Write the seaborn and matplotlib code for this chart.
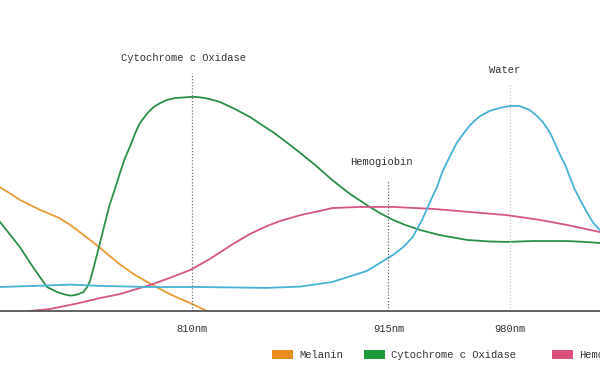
#!/usr/bin/env python3
"""Absorption spectra of tissue chromophores (NIR window)"""

import matplotlib.pyplot as plt
import pandas as pd
import seaborn as sns
from matplotlib.patches import Patch

###########################################################
# Data (wavelength in nm, relative absorption)
###########################################################

melanin_nm = [697, 707, 712.5, 718, 723.5, 729, 734, 739, 745, 750, 755.5,
              761, 766, 772, 779.5, 788, 798, 809, 818]
melanin_abs = [61.4, 56.4, 53.6, 50.5, 48.2, 45.9, 44.1, 42.3, 39.1, 35.9, 32.3,
               28.6, 25.0, 20.9, 16.4, 12.3, 7.7, 3.6, 0]

cco_nm = [699, 707, 718, 725, 732.5, 738, 742, 745, 748, 752, 754, 755.5, 758,
          761, 763.5, 766, 769, 771.5, 774, 777, 779.5, 782, 785, 787.5, 790,
          793, 796.5, 801, 804.5, 809, 812.5, 817, 820.5, 825, 833, 841, 847.5,
          854, 861, 868, 876.5, 885, 894.5, 905, 910.5, 917.5, 924, 932, 942.5,
          957, 969, 978, 992, 1001.5, 1010.5, 1020, 1028, 1036]
cco_abs = [49.5, 40.9, 29.1, 20.0, 10.9, 8.6, 7.5, 7.0, 7.3, 8.6, 10.9, 13.6, 21.5,
           31.5, 40.0, 48.3, 55.9, 62.7, 69.1, 75.0, 80.5, 85.2, 88.6, 91.2, 93.0,
           94.5, 95.9, 96.8, 97.0, 97.3, 97.3, 96.8, 96.1, 95.0, 91.8, 88.2, 84.5,
           80.9, 76.4, 71.8, 65.9, 59.5, 53.2, 47.3, 44.5, 41.4, 39.1, 36.8, 34.5,
           32.3, 31.6, 31.4, 31.8, 31.8, 31.8, 31.4, 30.9, 30.5]

hb_nm = [723, 734, 747.5, 761, 771.5, 787.5, 798, 809, 819.5, 832, 841, 850,
         857, 868, 878.5, 885, 900, 917.5, 939, 958.5, 978, 996, 1010.5, 1028, 1036]
hb_abs = [0, 0.9, 3.2, 5.9, 7.7, 11.8, 15.0, 18.6, 23.6, 30.5, 35.0, 38.6,
          40.9, 43.6, 45.5, 46.8, 47.3, 47.3, 46.4, 45.0, 43.6, 41.4, 39.1, 35.9, 34.5]

water_nm = [699, 707, 726, 745, 761, 787.5, 814, 850, 868, 885, 903.5, 917.5,
            923, 928, 933, 937, 941, 944, 948, 951.5, 955, 958.5, 961.5, 964, 969,
            974.5, 980, 985, 990.5, 994.5, 997.5, 1000.5, 1002.5, 1006.5, 1009.5,
            1012, 1014.5, 1017.5, 1021, 1024.5, 1026.5, 1028, 1036]
water_abs = [10.7, 10.9, 11.4, 12.0, 11.4, 10.9, 10.9, 10.5, 11.1, 13.2, 18.2, 25.5,
             29.1, 33.6, 41.4, 49.1, 56.4, 63.6, 70.5, 76.4, 80.5, 84.3, 86.8, 88.6,
             90.9, 92.3, 93.2, 93.2, 91.4, 88.6, 85.9, 82.3, 79.1, 71.4, 66.4,
             60.9, 55.5, 50.5, 45.0, 40.0, 38.2, 36.8, 32.3]

series = ["Melanin", "Cytochrome c Oxidase", "Hemoglobin", "Water"]
colors = ["#E88E1E", "#1F9A3B", "#D9507A", "#48B8D8"]
line_palette = ["#E89A36", "#2A9048", "#D65584", "#46B2D6"]

# peak markers: wavelength, label, marker height, label position
peak_nm = [810, 915, 980]
peak_labels = ["Cytochrome c Oxidase", "Hemogiobin", "Water"]
peak_top = [108, 59.5, 103.5]
label_nm = [805.7, 911, 977.3]
label_y = [115, 67.7, 109.5]
line_colors = ["#777777", "#666666", "#cccccc"]
tick_labels = ["810nm", "915nm", "980nm"]

# legend entries start (pixels from the left edge)
legend_x = [272, 364, 552, 676]

###########################################################
# Main
###########################################################


def main():
    df = pd.concat([
        pd.DataFrame({"nm": melanin_nm, "abs": melanin_abs, "chromophore": series[0]}),
        pd.DataFrame({"nm": cco_nm, "abs": cco_abs, "chromophore": series[1]}),
        pd.DataFrame({"nm": hb_nm, "abs": hb_abs, "chromophore": series[2]}),
        pd.DataFrame({"nm": water_nm, "abs": water_abs, "chromophore": series[3]}),
    ])

    sns.set_theme(style="white")
    plt.rcParams["font.family"] = ["Liberation Mono", "DejaVu Sans Mono"]

    fig = plt.figure(figsize=(6, 3.83), dpi=100)
    ax = fig.add_axes([0, 0.188, 1, 0.7467])

    sns.lineplot(data=df, x="nm", y="abs", hue="chromophore", palette=line_palette,
                 hue_order=series, estimator=None, sort=False, linewidth=1.3,
                 legend=False, ax=ax)
    for line in ax.lines:
        line.set_solid_joinstyle("round")

    ax.vlines(peak_nm, 0, peak_top, colors=line_colors, linestyles=(0, (1, 1.5)),
              linewidth=0.9)
    for x, y, txt in zip(label_nm, label_y, peak_labels):
        ax.text(x, y, txt, ha="center", va="center", fontsize=7.6, color="#333333",
                clip_on=False)

    ax.set_xlim(707.4, 1028.1)
    ax.set_ylim(0, 130)
    ax.set_xticks(peak_nm, tick_labels)
    ax.set_yticks([])
    ax.tick_params(axis="x", length=0, pad=9.5, labelsize=7.6, labelcolor="#333333")
    ax.set_xlabel("")
    ax.set_ylabel("")
    for side in ["top", "left", "right"]:
        ax.spines[side].set_visible(False)
    ax.spines["bottom"].set_color("#555555")
    ax.spines["bottom"].set_linewidth(1.3)

    for name, c, x in zip(series, colors, legend_x):
        fig.legend([Patch(facecolor=c, edgecolor="none")], [name], loc="center left",
                   bbox_to_anchor=(x / 600, 0.073), frameon=False, fontsize=7.6,
                   handlelength=2.0, handleheight=1.0, handletextpad=0.55,
                   borderpad=0, borderaxespad=0, labelcolor="#333333")

    fig.savefig("out.png", dpi=100)


if __name__ == "__main__":
    main()
